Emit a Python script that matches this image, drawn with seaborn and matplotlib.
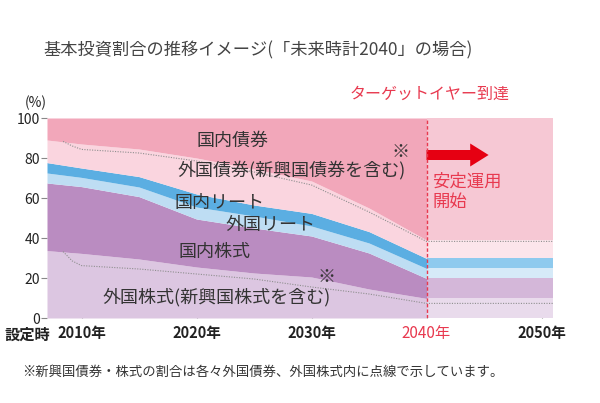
import matplotlib
matplotlib.use("Agg")
import matplotlib.pyplot as plt
import seaborn as sns
import pandas as pd
import numpy as np
from matplotlib.patches import FancyArrow

# ---------------- data ----------------
years = [2007, 2010, 2015, 2020, 2025, 2030, 2035, 2040, 2051]
foreign_stock = [33.7, 32.3, 29.5, 25.5, 22.5, 20.5, 14.5, 9.8, 9.8]
domestic_stock = [33.8, 33.4, 31.2, 24.0, 22.5, 20.5, 18.0, 10.0, 10.0]
foreign_reit = [5.0, 4.6, 4.8, 6.0, 6.0, 5.0, 5.0, 5.0, 5.0]
domestic_reit = [5.2, 4.7, 5.2, 6.5, 5.5, 6.3, 5.7, 5.0, 5.0]
foreign_bond = [11.3, 12.0, 13.8, 18.0, 18.0, 16.2, 11.8, 9.2, 9.2]
domestic_bond = [11.0, 13.0, 15.5, 20.0, 25.5, 31.5, 45.0, 61.0, 61.0]

em_years = [2008.4, 2009.2, 2010, 2015, 2020, 2025, 2030, 2035, 2040, 2051]
em_stock_line = [33.2, 28.5, 26.2, 24.5, 22.0, 19.5, 15.5, 12.0, 7.3, 7.3]
em_bond_line = [88.3, 86.0, 84.3, 82.5, 78.5, 73.0, 66.5, 53.0, 38.3, 38.3]

series_names = ["外国株式", "国内株式", "外国リート", "国内リート", "外国債券", "国内債券"]
series_vals = [foreign_stock, domestic_stock, foreign_reit, domestic_reit, foreign_bond, domestic_bond]
colors_before = ["#DCC6E1", "#BA8CC1", "#BEDDF3", "#5BAEE2", "#FAD5DF", "#F2A7BA"]
colors_after = ["#E9DBEC", "#D4B7D9", "#D6EAF8", "#8ECAEE", "#FCE5EB", "#F6C8D4"]

x_tick_years = [2010, 2020, 2030, 2040, 2050]
x_tick_labels = ["2010年", "2020年", "2030年", "2040年", "2050年"]
y_ticks = [0, 20, 40, 60, 80, 100]
target_year = 2040

# ---------------- style ----------------
sns.set_theme(style="white")
plt.rcParams["font.family"] = ["Noto Sans CJK JP", "DejaVu Sans"]

W, H = 600, 403
fig = plt.figure(figsize=(W / 100, H / 100), dpi=100)
fig.patch.set_facecolor("white")

def px(x, y):
    return x / W, 1 - y / H

ax = fig.add_axes([47 / W, 1 - 318 / H, 506 / W, 200 / H])

yrs = np.array(years, dtype=float)
vals = np.array(series_vals, dtype=float)
cum = np.vstack([np.zeros(len(yrs)), np.cumsum(vals, axis=0)])
split = years.index(target_year)

for i in range(len(series_names)):
    ax.fill_between(yrs[: split + 1], cum[i][: split + 1], cum[i + 1][: split + 1],
                    color=colors_before[i], linewidth=0)
    ax.fill_between(yrs[split:], cum[i][split:], cum[i + 1][split:],
                    color=colors_after[i], linewidth=0)

df_em = pd.DataFrame({"year": em_years, "stock": em_stock_line, "bond": em_bond_line})
sns.lineplot(data=df_em, x="year", y="stock", ax=ax, color="#8f8f8f",
             linestyle=(0, (1, 1.3)), linewidth=0.8)
sns.lineplot(data=df_em, x="year", y="bond", ax=ax, color="#8f8f8f",
             linestyle=(0, (1, 1.3)), linewidth=0.8)

ax.axvline(target_year, color="#E8394F", linestyle=(0, (2.5, 1.5)), linewidth=1.0)

arrow = FancyArrow(target_year, 81.5, 5.4, 0, width=5.0, head_width=11.5,
                   head_length=1.6, length_includes_head=True,
                   color="#E60012", linewidth=0)
ax.add_patch(arrow)

ax.set_xlim(2007, 2051)
ax.set_ylim(0, 100)
for s in ax.spines.values():
    s.set_visible(False)
ax.set_xlabel("")
ax.set_ylabel("")

ax.set_yticks(y_ticks)
ax.set_yticklabels([str(v) for v in y_ticks], fontsize=10, color="#222222")
ax.tick_params(axis="y", direction="out", length=4, width=0.8, color="#888888", pad=1, left=True)

ax.set_xticks(x_tick_years)
ax.set_xticklabels(x_tick_labels, fontsize=10.5, fontweight="bold", color="#222222")
ax.tick_params(axis="x", direction="in", length=4, width=0.8, color="#888888", pad=5, bottom=True)
for lbl, yv in zip(ax.get_xticklabels(), x_tick_years):
    if yv == target_year:
        lbl.set_color("#E8394F")
        lbl.set_fontweight("normal")
        lbl.set_fontsize(11)

# ---------------- texts ----------------
fig.text(*px(258, 50), "基本投資割合の推移イメージ(「未来時計2040」の場合)",
         ha="center", va="center", fontsize=12.4, color="#444444")
fig.text(*px(36, 103), "(%)", ha="center", va="center", fontsize=10, color="#222222")
fig.text(*px(50, 335), "設定時", ha="right", va="center", fontsize=11,
         fontweight="bold", color="#222222")
fig.text(*px(430, 94), "ターゲットイヤー到達", ha="center", va="center",
         fontsize=11.5, color="#E8394F")
fig.text(*px(432, 192), "安定運用\n開始", ha="left", va="center",
         fontsize=12.5, color="#E8394F", linespacing=1.15)
fig.text(*px(22, 372), "※新興国債券・株式の割合は各々外国債券、外国株式内に点線で示しています。",
         ha="left", va="center", fontsize=9.6, color="#333333")

area_labels = [
    (233, 141, "国内債券"),
    (292, 170, "外国債券(新興国債券を含む)"),
    (219, 203, "国内リート"),
    (270, 225, "外国リート"),
    (214, 252, "国内株式"),
    (217, 297, "外国株式(新興国株式を含む)"),
    (400, 152, "※"),
    (327, 277, "※"),
]
for x, y, t in area_labels:
    fig.text(*px(x, y), t, ha="center", va="center", fontsize=13, color="#333333")

fig.savefig("out.png", dpi=100)
